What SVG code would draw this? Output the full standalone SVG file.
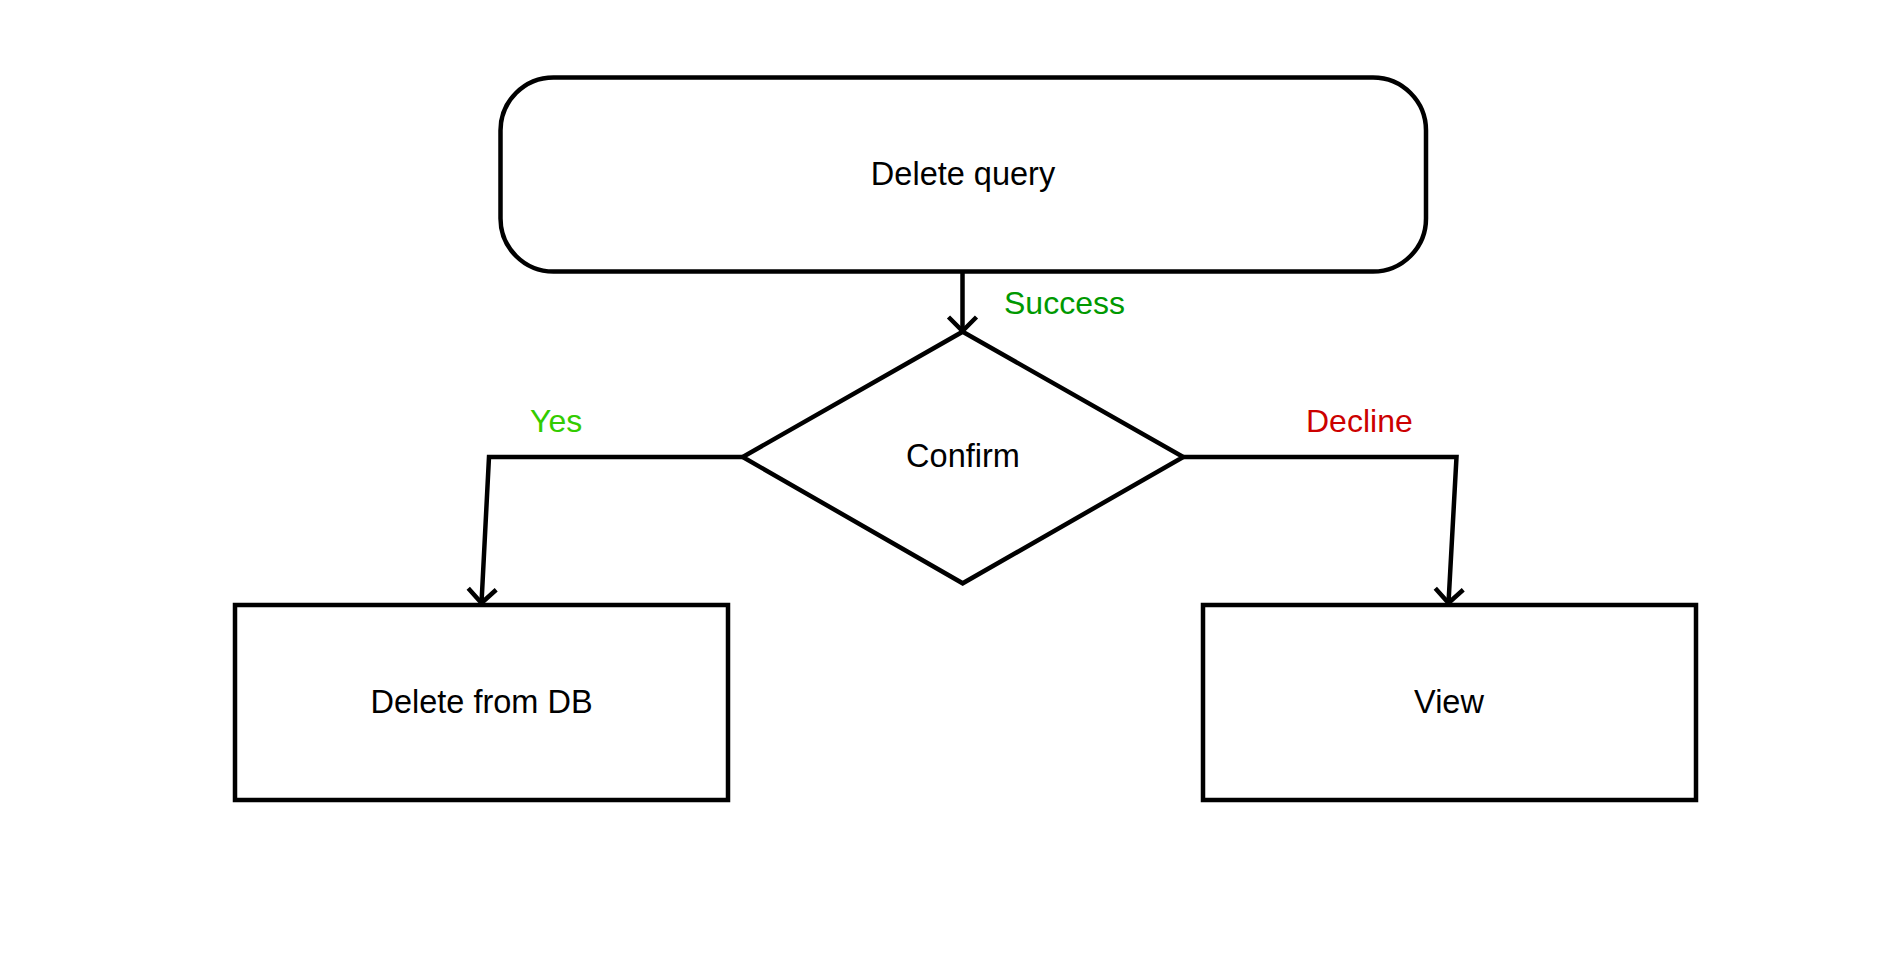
<svg xmlns="http://www.w3.org/2000/svg" width="1878" height="968" viewBox="0 0 1878 968">
  <defs>
    <marker id="open" markerUnits="userSpaceOnUse" markerWidth="40" markerHeight="40" viewBox="-20 -20 40 40" refX="0" refY="0" orient="auto">
      <path d="M-14,-14 L0,0 L-14,14" fill="none" stroke="#000" stroke-width="4.5"/>
    </marker>
  </defs>
  <style>
    .shape { fill: #fff; stroke: #000; stroke-width: 4.5; }
    .edge { fill: none; stroke: #000; stroke-width: 4.5; marker-end: url(#open); }
    .label { font-family: "Liberation Sans", Arial, sans-serif; font-size: 32.5px; text-anchor: middle; fill: #000; }
    .elabel { font-family: "Liberation Sans", Arial, sans-serif; font-size: 32px; text-anchor: start; }
  </style>
  <rect width="1878" height="968" fill="#fff"/>
  <g id="connectors">
    <path class="edge" d="M962.5,273 L962.5,331"/>
    <path class="edge" d="M742.7,457 L489,457 L481.5,603"/>
    <path class="edge" d="M1183.3,457 L1456.5,457 L1448.5,603"/>
    <text class="elabel" x="1004" y="314" fill="#009900">Success</text>
    <text class="elabel" x="530" y="432" fill="#33CC00">Yes</text>
    <text class="elabel" x="1306" y="432" fill="#CC0000">Decline</text>
  </g>
  <g id="delete-query">
    <rect class="shape" x="500.5" y="77.5" width="925.5" height="194" rx="53" ry="53"/>
    <text class="label" x="963" y="185">Delete query</text>
  </g>
  <g id="confirm">
    <polygon class="shape" points="962.7,331.7 1183.3,457 962.7,583.3 742.7,457"/>
    <text class="label" x="963" y="467">Confirm</text>
  </g>
  <g id="delete-from-db">
    <rect class="shape" x="235" y="605" width="493" height="195"/>
    <text class="label" x="481.5" y="713">Delete from DB</text>
  </g>
  <g id="view">
    <rect class="shape" x="1203" y="605" width="493" height="195"/>
    <text class="label" x="1449" y="713">View</text>
  </g>
</svg>
